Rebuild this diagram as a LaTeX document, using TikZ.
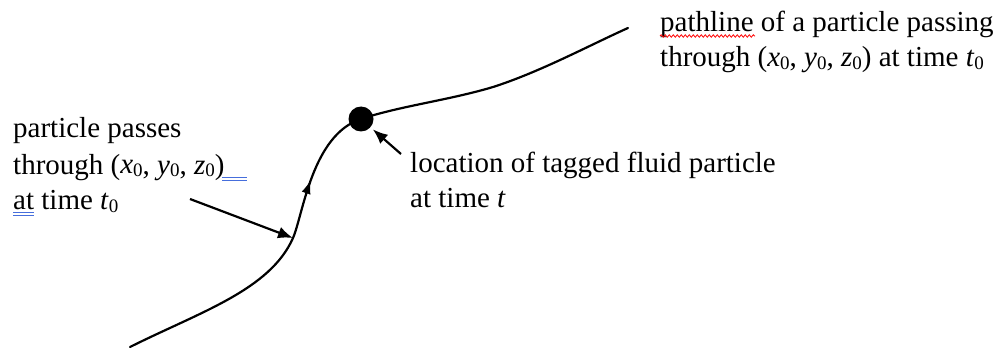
\documentclass[tikz,border=0pt]{standalone}
\usepackage{fontspec}
\setmainfont{Liberation Serif}
\usetikzlibrary{arrows.meta,decorations.markings,decorations.pathmorphing}
\newcommand\subz{\raisebox{-0.1em}{\fontsize{19}{19}\selectfont 0}}
\newcommand\xyz{(\textit{x}\subz, \textit{y}\subz, \textit{z}\subz)}
\definecolor{spellblue}{RGB}{70,110,220}
\tikzset{
  curve/.style={line width=2.2pt, line cap=round, line join=round},
  pointer/.style={line width=2.2pt, -{Latex[length=15pt,width=12pt]}},
  lbl/.style={anchor=base west, inner sep=0pt, font=\fontsize{29}{36}\selectfont},
  lbltight/.style={anchor=base west, inner sep=0pt, font=\fontsize{29}{35}\selectfont},
  spell/.style={spellblue, line width=0.8pt},
}
\begin{document}
\begin{tikzpicture}[x=1pt,y=-1pt]
\useasboundingbox (0,0) rectangle (1006,350);
% labels
\node[lbl] (lblA) at (13,138) {\begin{tabular}[t]{@{}l@{}}particle passes\\ through \xyz\\ at time \textit{t}\subz\end{tabular}};
\node[lbltight] (lblB) at (410,172) {\begin{tabular}[t]{@{}l@{}}location of tagged fluid particle\\ at time \textit{t}\end{tabular}};
\node[lbltight] (lblC) at (660,32) {\begin{tabular}[t]{@{}l@{}}pathline of a particle passing\\ through \xyz{} at time \textit{t}\subz\end{tabular}};
% pathline
\node[circle, fill=black, minimum size=25pt, inner sep=0pt] (dot) at (361,119) {};
\coordinate (p0) at (130,347);
\coordinate (p1) at (293,238);
\coordinate (p3) at (493,87);
\coordinate (p4) at (628,28);
\draw[curve] (p0) .. controls (200,312) and (270,290) .. (p1)
  .. controls (303,215) and (312,135) .. (dot.center)
  .. controls (400,106) and (450,100) .. (p3)
  .. controls (540,72) and (590,45) .. (p4);
\path[postaction={decorate}, decoration={markings, mark=at position 0.42 with {\arrow{Latex[length=13pt,width=9pt]}}}]
  (p1) .. controls (303,215) and (312,135) .. (dot.center);
% pointers
\coordinate (sA) at (190,199);
\coordinate (sB) at (401,154);
\draw[pointer] (sA) -- (p1);
\draw[pointer, shorten >=3pt] (sB) -- (dot);
% spell-check marks
\draw[red, line width=0.8pt, decorate, decoration={snake, amplitude=1.2pt, segment length=4pt}] (660,36) -- (755,36);
\draw[spell] (222,177) -- (247,177) (222,180.5) -- (247,180.5);
\draw[spell] (13,212) -- (34,212) (13,215.5) -- (34,215.5);
\end{tikzpicture}
\end{document}
